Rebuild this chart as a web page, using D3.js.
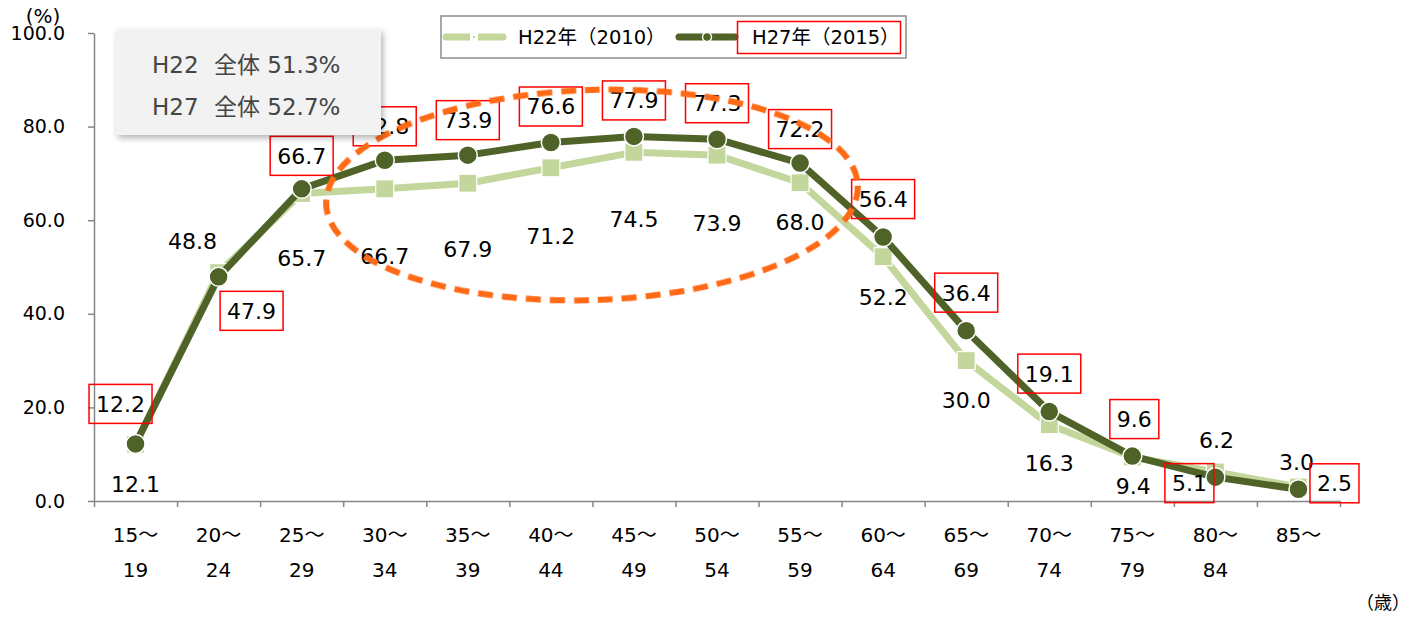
<!DOCTYPE html>
<html><head><meta charset="utf-8">
<script src="https://cdn.jsdelivr.net/npm/d3@7"></script>
<style>
body{margin:0;background:#fff}
svg{display:block}
text{font-family:"DejaVu Sans","Noto Sans CJK JP",sans-serif}
</style>
</head><body>
<svg id="c" width="1418" height="617"></svg>
<script>
// ---- data ----
const ageFrom = ["15～","20～","25～","30～","35～","40～","45～","50～","55～","60～","65～","70～","75～","80～","85～"];
const ageTo   = ["19","24","29","34","39","44","49","54","59","64","69","74","79","84",""];
const h22 = [12.1,48.8,65.7,66.7,67.9,71.2,74.5,73.9,68.0,52.2,30.0,16.3,9.4,6.2,3.0];
const h27 = [12.2,47.9,66.7,72.8,73.9,76.6,77.9,77.3,72.2,56.4,36.4,19.1,9.6,5.1,2.5];
const yTicks = [0,20,40,60,80,100];
const seriesNames = ["H22年（2010）","H27年（2015）"];
const summaryEra = ["H22","H27"];
const summaryText = ["全体 51.3%","全体 52.7%"];
const yUnit = "(%)";
const xUnit = "（歳）";
// label placement (offset from point, px)
const h22LabelOffset = [[0,40],[-26,-32],[0,65],[0,67],[0,66],[0,68],[0,67],[0,68],[0,39],[0,40],[0,39],[0,38],[1,29],[1,-32],[-2,-25]];
const h27LabelOffset = [[-15,-40],[33,34],[0,-33],[0,-34],[0,-35],[0,-36],[0,-36],[0,-36],[0,-34],[0,-38],[0,-38],[0,-38],[2,-37],[-26,6],[36,-6]];

const C22 = "#c3d69b", C27 = "#4f6228", AX = "#868686";

const svg = d3.select("#c");
const defs = svg.append("defs");
const sh = defs.append("filter").attr("id","shadow").attr("x","-10%").attr("y","-10%").attr("width","130%").attr("height","140%");
sh.append("feDropShadow").attr("dx",2).attr("dy",3).attr("stdDeviation",3).attr("flood-color","#000").attr("flood-opacity",0.3);
const bl = defs.append("filter").attr("id","soft");
bl.append("feGaussianBlur").attr("stdDeviation",0.7);

const x = d3.scaleBand().domain(d3.range(ageFrom.length)).range([94,1340]).paddingInner(0).paddingOuter(0);
const xb = d3.scaleLinear().domain([0,ageFrom.length]).range([94,1340]);
const y = d3.scaleLinear().domain([0,100]).range([501,33]);
const cx = i => x(i) + x.bandwidth()/2;

// y axis
const ya = svg.append("g").attr("transform","translate(94,0)")
  .call(d3.axisLeft(y).tickValues(yTicks).tickFormat(d3.format(".1f")).tickSize(6).tickSizeOuter(0).tickPadding(23));
ya.selectAll("path,line").attr("stroke",AX).attr("stroke-width",1.5);
ya.selectAll("text").attr("font-size",19).attr("fill","#000").attr("font-family",null);

// x axis
const xa = svg.append("g").attr("transform","translate(0,501)")
  .call(d3.axisBottom(xb).tickValues(d3.range(ageFrom.length+1)).tickFormat("").tickSize(6).tickSizeOuter(0));
xa.selectAll("path,line").attr("stroke",AX).attr("stroke-width",1.5);

const cat = svg.append("g").attr("font-size",20).attr("fill","#000").attr("text-anchor","middle");
cat.selectAll("text.a").data(ageFrom).join("text").attr("class","a")
  .attr("x",(d,i)=>cx(i)).attr("y",535).attr("dy","0.35em").text(d=>d);
cat.selectAll("text.b").data(ageTo).join("text").attr("class","b")
  .attr("x",(d,i)=>cx(i)).attr("y",570).attr("dy","0.35em").text(d=>d);

svg.append("text").attr("x",43).attr("y",16).attr("dy","0.35em").attr("text-anchor","middle").attr("font-size",20).text(yUnit);
svg.append("text").attr("x",1383).attr("y",603).attr("dy","0.35em").attr("text-anchor","middle").attr("font-size",18).text(xUnit);

// lines
const line = d3.line().x((d,i)=>cx(i)).y(d=>y(d));
svg.append("path").datum(h22).attr("d",line).attr("fill","none").attr("stroke",C22).attr("stroke-width",7).attr("stroke-linejoin","round");
svg.append("g").selectAll("rect").data(h22).join("rect")
  .attr("x",(d,i)=>cx(i)-9).attr("y",d=>y(d)-9).attr("width",18).attr("height",18)
  .attr("fill",C22).attr("stroke","#fff").attr("stroke-width",1.2);
svg.append("path").datum(h27).attr("d",line).attr("fill","none").attr("stroke",C27).attr("stroke-width",7).attr("stroke-linejoin","round");
svg.append("g").selectAll("circle").data(h27).join("circle")
  .attr("cx",(d,i)=>cx(i)).attr("cy",d=>y(d)).attr("r",9.5)
  .attr("fill",C27).attr("stroke","#fff").attr("stroke-width",1.5);

// labels
const lab = svg.append("g").attr("font-size",22).attr("fill","#000").attr("text-anchor","middle");
lab.selectAll("text.l22").data(h22).join("text").attr("class","l22")
  .attr("x",(d,i)=>cx(i)+h22LabelOffset[i][0]).attr("y",(d,i)=>y(d)+h22LabelOffset[i][1]).attr("dy","0.36em")
  .text(d=>d.toFixed(1));
const l27 = lab.selectAll("g.l27").data(h27).join("g").attr("class","l27")
  .attr("transform",(d,i)=>`translate(${cx(i)+h27LabelOffset[i][0]},${y(d)+h27LabelOffset[i][1]})`);
l27.append("text").attr("dy","0.36em").text(d=>d.toFixed(1));
l27.each(function(){
  const g = d3.select(this);
  const w = g.select("text").node().getComputedTextLength() + 14;
  g.insert("rect","text").attr("x",-w/2).attr("y",-19.5).attr("width",w).attr("height",39)
    .attr("fill","none").attr("stroke","#ff0000").attr("stroke-width",1.5);
});

// highlight ellipse
svg.append("ellipse").attr("cx",592).attr("cy",195).attr("rx",266).attr("ry",105)
  .attr("transform","rotate(-2,592,195)")
  .attr("fill","none").attr("stroke","#ff6a13").attr("stroke-width",6).attr("stroke-dasharray","15 9")
  .attr("filter","url(#soft)");

// legend
const lg = svg.append("g");
lg.append("rect").attr("x",441).attr("y",16).attr("width",465).attr("height",42).attr("fill","#fff").attr("stroke","#8c8c8c").attr("stroke-width",1.5);
lg.append("line").attr("x1",446).attr("x2",503).attr("y1",37).attr("y2",37).attr("stroke",C22).attr("stroke-width",7).attr("stroke-linecap","round");
lg.append("rect").attr("x",471.5).attr("y",34.5).attr("width",5).attr("height",5).attr("fill",C22).attr("stroke","#fff").attr("stroke-width",3);
lg.append("text").attr("x",518).attr("y",37).attr("dy","0.36em").attr("font-size",19.5).text(seriesNames[0]);
lg.append("line").attr("x1",679).attr("x2",735).attr("y1",37).attr("y2",37).attr("stroke",C27).attr("stroke-width",7).attr("stroke-linecap","round");
lg.append("circle").attr("cx",707).attr("cy",37).attr("r",4.5).attr("fill",C27).attr("stroke","#fff").attr("stroke-width",1.5);
lg.append("text").attr("x",752).attr("y",37).attr("dy","0.36em").attr("font-size",19.5).text(seriesNames[1]);
lg.append("rect").attr("x",737.5).attr("y",21.5).attr("width",163).attr("height",32).attr("fill","none").attr("stroke","#ff0000").attr("stroke-width",1.5);

// summary box
const sb = svg.append("g");
sb.append("rect").attr("x",116).attr("y",29).attr("width",265).attr("height",106).attr("fill","#f2f2f2").attr("filter","url(#shadow)");
const st = sb.append("g").attr("font-size",23).attr("fill","#454545");
st.selectAll("text.e").data(summaryEra).join("text").attr("class","e")
  .attr("x",152).attr("y",(d,i)=>65+i*42).attr("dy","0.36em").text(d=>d);
st.selectAll("text.t").data(summaryText).join("text").attr("class","t")
  .attr("x",214).attr("y",(d,i)=>65+i*42).attr("dy","0.36em").text(d=>d);
</script>
</body></html>
